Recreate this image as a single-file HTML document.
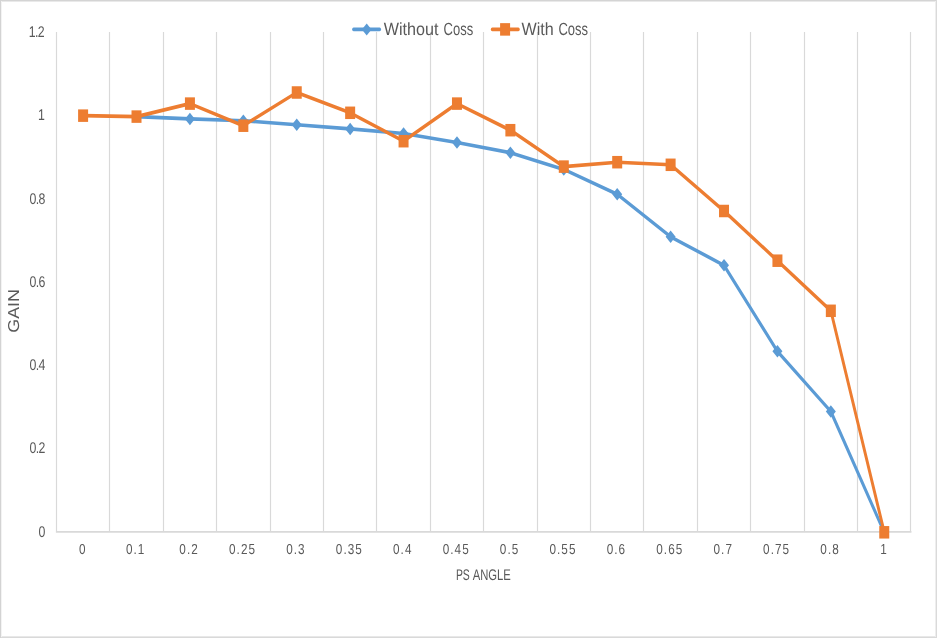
<!DOCTYPE html>
<html><head><meta charset="utf-8"><title>Gain vs PS Angle</title>
<style>html,body{margin:0;padding:0;background:#fff;}svg{display:block;}text{font-family:"Liberation Sans",sans-serif;fill:#595959;text-rendering:geometricPrecision;}</style></head><body>
<svg width="937" height="638" viewBox="0 0 937 638">
<rect x="0" y="0" width="937" height="638" fill="#fff"/>
<g shape-rendering="crispEdges">
<rect x="0" y="0" width="937" height="1" fill="#d4d4d4"/><rect x="0" y="1" width="937" height="1" fill="#e9e9e9"/>
<rect x="0" y="637" width="937" height="1" fill="#d9d9d9"/><rect x="0" y="636" width="937" height="1" fill="#e8e8e8"/>
<rect x="0" y="0" width="1" height="638" fill="#d3d3d3"/><rect x="1" y="1" width="1" height="636" fill="#f3f3f3"/>
<rect x="936" y="0" width="1" height="638" fill="#dadada"/><rect x="935" y="1" width="1" height="636" fill="#eeeeee"/>
</g>
<line x1="56.50" y1="31.90" x2="56.50" y2="531.40" stroke="#d9d9d9" stroke-width="1.15"/>
<line x1="109.50" y1="31.90" x2="109.50" y2="531.40" stroke="#d9d9d9" stroke-width="1.15"/>
<line x1="163.50" y1="31.90" x2="163.50" y2="531.40" stroke="#d9d9d9" stroke-width="1.15"/>
<line x1="216.50" y1="31.90" x2="216.50" y2="531.40" stroke="#d9d9d9" stroke-width="1.15"/>
<line x1="270.50" y1="31.90" x2="270.50" y2="531.40" stroke="#d9d9d9" stroke-width="1.15"/>
<line x1="323.50" y1="31.90" x2="323.50" y2="531.40" stroke="#d9d9d9" stroke-width="1.15"/>
<line x1="376.50" y1="31.90" x2="376.50" y2="531.40" stroke="#d9d9d9" stroke-width="1.15"/>
<line x1="430.50" y1="31.90" x2="430.50" y2="531.40" stroke="#d9d9d9" stroke-width="1.15"/>
<line x1="483.50" y1="31.90" x2="483.50" y2="531.40" stroke="#d9d9d9" stroke-width="1.15"/>
<line x1="537.50" y1="31.90" x2="537.50" y2="531.40" stroke="#d9d9d9" stroke-width="1.15"/>
<line x1="590.50" y1="31.90" x2="590.50" y2="531.40" stroke="#d9d9d9" stroke-width="1.15"/>
<line x1="643.50" y1="31.90" x2="643.50" y2="531.40" stroke="#d9d9d9" stroke-width="1.15"/>
<line x1="697.50" y1="31.90" x2="697.50" y2="531.40" stroke="#d9d9d9" stroke-width="1.15"/>
<line x1="750.50" y1="31.90" x2="750.50" y2="531.40" stroke="#d9d9d9" stroke-width="1.15"/>
<line x1="804.50" y1="31.90" x2="804.50" y2="531.40" stroke="#d9d9d9" stroke-width="1.15"/>
<line x1="857.50" y1="31.90" x2="857.50" y2="531.40" stroke="#d9d9d9" stroke-width="1.15"/>
<line x1="910.50" y1="31.90" x2="910.50" y2="531.40" stroke="#d9d9d9" stroke-width="1.15"/>
<line x1="55.90" y1="531.85" x2="911.46" y2="531.85" stroke="#d9d9d9" stroke-width="1.7"/>
<g transform="scale(1,1.25)">
<polyline points="136.51,93.28 189.92,95.12 243.34,96.56 296.74,99.76 350.15,103.12 403.56,106.80 456.97,114.00 510.38,122.16 563.79,135.52 617.20,155.36 670.61,189.44 724.02,212.24 777.43,281.04 830.84,329.20 884.25,425.84" fill="none" stroke="#5b9bd5" stroke-width="2.9" stroke-linejoin="round" stroke-linecap="round"/>
<polygon points="189.92,90.12 194.92,95.12 189.92,100.12 184.92,95.12" fill="#5b9bd5"/>
<polygon points="243.34,91.56 248.34,96.56 243.34,101.56 238.34,96.56" fill="#5b9bd5"/>
<polygon points="296.74,94.76 301.74,99.76 296.74,104.76 291.74,99.76" fill="#5b9bd5"/>
<polygon points="350.15,98.12 355.15,103.12 350.15,108.12 345.15,103.12" fill="#5b9bd5"/>
<polygon points="403.56,101.80 408.56,106.80 403.56,111.80 398.56,106.80" fill="#5b9bd5"/>
<polygon points="456.97,109.00 461.97,114.00 456.97,119.00 451.97,114.00" fill="#5b9bd5"/>
<polygon points="510.38,117.16 515.38,122.16 510.38,127.16 505.38,122.16" fill="#5b9bd5"/>
<polygon points="563.79,130.52 568.79,135.52 563.79,140.52 558.79,135.52" fill="#5b9bd5"/>
<polygon points="617.20,150.36 622.20,155.36 617.20,160.36 612.20,155.36" fill="#5b9bd5"/>
<polygon points="670.61,184.44 675.61,189.44 670.61,194.44 665.61,189.44" fill="#5b9bd5"/>
<polygon points="724.02,207.24 729.02,212.24 724.02,217.24 719.02,212.24" fill="#5b9bd5"/>
<polygon points="777.43,276.04 782.43,281.04 777.43,286.04 772.43,281.04" fill="#5b9bd5"/>
<polygon points="830.84,324.20 835.84,329.20 830.84,334.20 825.84,329.20" fill="#5b9bd5"/>
<polyline points="83.10,92.52 136.51,93.28 189.92,82.88 243.34,100.56 296.74,74.00 350.15,90.24 403.56,112.96 456.97,82.88 510.38,104.16 563.79,133.28 617.20,129.76 670.61,131.84 724.02,168.80 777.43,208.56 830.84,248.64 884.25,425.84" fill="none" stroke="#ed7d31" stroke-width="2.9" stroke-linejoin="round" stroke-linecap="round"/>
<rect x="78.10" y="87.52" width="10.00" height="10.00" fill="#ed7d31"/>
<rect x="131.51" y="88.28" width="10.00" height="10.00" fill="#ed7d31"/>
<rect x="184.92" y="77.88" width="10.00" height="10.00" fill="#ed7d31"/>
<rect x="238.34" y="95.56" width="10.00" height="10.00" fill="#ed7d31"/>
<rect x="291.74" y="69.00" width="10.00" height="10.00" fill="#ed7d31"/>
<rect x="345.15" y="85.24" width="10.00" height="10.00" fill="#ed7d31"/>
<rect x="398.56" y="107.96" width="10.00" height="10.00" fill="#ed7d31"/>
<rect x="451.97" y="77.88" width="10.00" height="10.00" fill="#ed7d31"/>
<rect x="505.38" y="99.16" width="10.00" height="10.00" fill="#ed7d31"/>
<rect x="558.79" y="128.28" width="10.00" height="10.00" fill="#ed7d31"/>
<rect x="612.20" y="124.76" width="10.00" height="10.00" fill="#ed7d31"/>
<rect x="665.61" y="126.84" width="10.00" height="10.00" fill="#ed7d31"/>
<rect x="719.02" y="163.80" width="10.00" height="10.00" fill="#ed7d31"/>
<rect x="772.43" y="203.56" width="10.00" height="10.00" fill="#ed7d31"/>
<rect x="825.84" y="243.64" width="10.00" height="10.00" fill="#ed7d31"/>
<rect x="879.25" y="420.84" width="10.00" height="10.00" fill="#ed7d31"/>
<line x1="353.6" y1="23.52" x2="379.6" y2="23.52" stroke="#5b9bd5" stroke-width="2.9" stroke-linecap="round"/>
<polygon points="366.70,18.72 371.50,23.52 366.70,28.32 361.90,23.52" fill="#5b9bd5"/>
<line x1="492.3" y1="23.52" x2="518.3" y2="23.52" stroke="#ed7d31" stroke-width="2.9" stroke-linecap="round"/>
<rect x="500.10" y="18.52" width="10.00" height="10.00" fill="#ed7d31"/>
</g>
<text id="yl0" transform="translate(44.61,536.60) scale(0.795,1)" font-size="15.50" text-anchor="end" letter-spacing="-0.90" >0</text>
<text id="yl1" transform="translate(44.61,453.35) scale(0.795,1)" font-size="15.50" text-anchor="end" letter-spacing="-0.90" >0.2</text>
<text id="yl2" transform="translate(44.61,370.10) scale(0.795,1)" font-size="15.50" text-anchor="end" letter-spacing="-0.90" >0.4</text>
<text id="yl3" transform="translate(44.61,286.85) scale(0.795,1)" font-size="15.50" text-anchor="end" letter-spacing="-0.90" >0.6</text>
<text id="yl4" transform="translate(44.61,203.60) scale(0.795,1)" font-size="15.50" text-anchor="end" letter-spacing="-0.90" >0.8</text>
<text id="yl5" transform="translate(44.11,120.35) scale(0.795,1)" font-size="15.50" text-anchor="end" letter-spacing="-0.90" >1</text>
<text id="yl6" transform="translate(43.81,37.10) scale(0.795,1)" font-size="15.50" text-anchor="end" letter-spacing="-0.90" >1.2</text>
<text id="xl0" transform="translate(82.90,553.70) scale(0.810,1)" font-size="14.50" text-anchor="middle" letter-spacing="1.30" >0</text>
<text id="xl1" transform="translate(135.71,553.70) scale(0.810,1)" font-size="14.50" text-anchor="middle" letter-spacing="1.30" >0.1</text>
<text id="xl2" transform="translate(189.12,553.70) scale(0.810,1)" font-size="14.50" text-anchor="middle" letter-spacing="1.30" >0.2</text>
<text id="xl3" transform="translate(242.53,553.70) scale(0.810,1)" font-size="14.50" text-anchor="middle" letter-spacing="1.30" >0.25</text>
<text id="xl4" transform="translate(295.94,553.70) scale(0.810,1)" font-size="14.50" text-anchor="middle" letter-spacing="1.30" >0.3</text>
<text id="xl5" transform="translate(349.35,553.70) scale(0.810,1)" font-size="14.50" text-anchor="middle" letter-spacing="1.30" >0.35</text>
<text id="xl6" transform="translate(402.76,553.70) scale(0.810,1)" font-size="14.50" text-anchor="middle" letter-spacing="1.30" >0.4</text>
<text id="xl7" transform="translate(456.17,553.70) scale(0.810,1)" font-size="14.50" text-anchor="middle" letter-spacing="1.30" >0.45</text>
<text id="xl8" transform="translate(509.58,553.70) scale(0.810,1)" font-size="14.50" text-anchor="middle" letter-spacing="1.30" >0.5</text>
<text id="xl9" transform="translate(563.00,553.70) scale(0.810,1)" font-size="14.50" text-anchor="middle" letter-spacing="1.30" >0.55</text>
<text id="xl10" transform="translate(616.40,553.70) scale(0.810,1)" font-size="14.50" text-anchor="middle" letter-spacing="1.30" >0.6</text>
<text id="xl11" transform="translate(669.81,553.70) scale(0.810,1)" font-size="14.50" text-anchor="middle" letter-spacing="1.30" >0.65</text>
<text id="xl12" transform="translate(723.23,553.70) scale(0.810,1)" font-size="14.50" text-anchor="middle" letter-spacing="1.30" >0.7</text>
<text id="xl13" transform="translate(776.63,553.70) scale(0.810,1)" font-size="14.50" text-anchor="middle" letter-spacing="1.30" >0.75</text>
<text id="xl14" transform="translate(830.04,553.70) scale(0.810,1)" font-size="14.50" text-anchor="middle" letter-spacing="1.30" >0.8</text>
<text id="xl15" transform="translate(884.05,553.70) scale(0.810,1)" font-size="14.50" text-anchor="middle" letter-spacing="1.30" >1</text>
<text id="xt" y="580.1" font-size="15.4"><tspan x="455.9" textLength="13.9" lengthAdjust="spacingAndGlyphs">PS</tspan> <tspan x="472.65" textLength="38.15" lengthAdjust="spacingAndGlyphs">ANGLE</tspan></text>
<text id="yt" transform="translate(19.2,310.9) rotate(-90) scale(1.125,1)" font-size="15.8" text-anchor="middle">GAIN</text>
<text id="lg1" y="34.7" font-size="17.7"><tspan x="383.8" textLength="54.7" lengthAdjust="spacingAndGlyphs">Without</tspan> <tspan x="443.6" textLength="29.6" lengthAdjust="spacingAndGlyphs">Coss</tspan></text>
<text id="lg2" y="34.7" font-size="17.7"><tspan x="521.5" textLength="32.2" lengthAdjust="spacingAndGlyphs">With</tspan> <tspan x="558.4" textLength="29.6" lengthAdjust="spacingAndGlyphs">Coss</tspan></text>
</svg></body></html>
